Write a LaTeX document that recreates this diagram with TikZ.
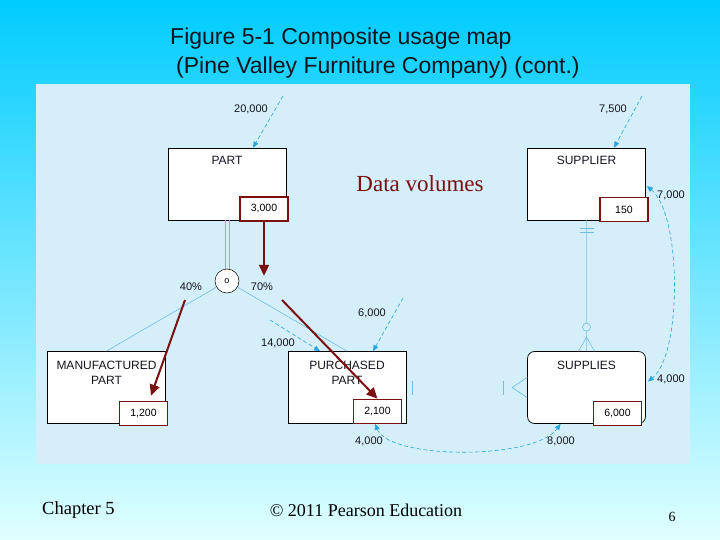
\documentclass[tikz,border=0pt]{standalone}
\usepackage{fontspec}
\setmainfont{Liberation Sans}
\newfontfamily\timesfont{Liberation Serif}
\usetikzlibrary{arrows.meta,positioning,calc}
\definecolor{mTop}{RGB}{0,204,255}
\definecolor{mMid}{RGB}{105,208,252}
\definecolor{mBottom}{RGB}{224,255,255}
\definecolor{mPanel}{RGB}{212,238,250}
\definecolor{mFlow}{RGB}{38,166,220}
\definecolor{mLink}{RGB}{110,190,228}
\definecolor{mMaroon}{RGB}{122,16,16}
\definecolor{mInk}{RGB}{20,20,30}

\begin{document}
\begin{tikzpicture}[x=1pt,y=-1pt,
  entity/.style={draw=black,line width=0.7pt,fill=white,minimum width=118pt,minimum height=72pt,inner sep=0pt},
  ename/.style={font=\fontsize{12}{14.5}\selectfont,align=center,anchor=north,inner sep=0pt,text=mInk},
  vol/.style={draw=mMaroon,line width=1.6pt,fill=white,minimum width=48pt,minimum height=24pt,inner sep=0pt,font=\fontsize{10.5}{11}\selectfont},
  num/.style={font=\fontsize{11}{12}\selectfont,inner sep=1pt,text=mInk},
  flow/.style={mFlow,line width=0.6pt,dash pattern=on 4pt off 2.5pt,-{Triangle[length=6pt,width=5pt]}},
  flowboth/.style={flow,{Triangle[length=6pt,width=5pt]}-{Triangle[length=6pt,width=5pt]}},
  link/.style={mLink,line width=0.6pt},
  hint/.style={mMaroon,line width=2pt,-{Triangle[length=11pt,width=10pt]}}]
  \useasboundingbox (0,0) rectangle (720,540);
  \shade[top color=mTop,middle color=mMid,bottom color=mBottom] (0,0) rectangle (720,540);
  \fill[mPanel] (36,84) rectangle (690,464);

  % title
  \node[anchor=base west,font=\fontsize{23}{26}\selectfont,text=mInk,inner sep=0pt] (title) at (170,45) {Figure 5-1 Composite usage map};
  \node[anchor=base west,font=\fontsize{23}{26}\selectfont,text=mInk,inner sep=0pt] (subtitle) at (176,74) {(Pine Valley Furniture Company) (cont.)};

  % entities
  \node[entity] (part) at (227,184) {};
  \node[entity] (supplier) at (586.5,184) {};
  \node[entity] (mfgpart) at (106.5,387.5) {};
  \node[entity] (purchpart) at (347,387.5) {};
  \node[entity,rounded corners=7pt] (supplies) at (586.5,387.5) {};
  \node[ename] (partname) at ($(part.north)+(0,8)$) {PART};
  \node[ename] (suppliername) at ($(supplier.north)+(0,8)$) {SUPPLIER};
  \node[ename] (mfgname) at ($(mfgpart.north)+(0,10)$) {MANUFACTURED\\PART};
  \node[ename] (purchname) at ($(purchpart.north)+(0,10)$) {PURCHASED\\PART};
  \node[ename] (suppliesname) at ($(supplies.north)+(0,10)$) {SUPPLIES};

  % volume boxes
  \node[vol] (partvol) at (264,209) {3,000};
  \node[vol] (suppliervol) at (624,209.5) {150};
  \node[vol] (mfgvol) at (143.5,413.5) {1,200};
  \node[vol] (purchvol) at (377.5,411.5) {2,100};
  \node[vol] (suppliesvol) at (617.5,413.5) {6,000};

  % subtype circle
  \node[circle,draw=black,line width=0.5pt,fill=white,minimum size=24pt,inner sep=0pt,font=\fontsize{9}{9}\selectfont] (op) at (227,281) {o};
  \draw[link] ($(part.south)+(-2,0)$) -- ($(op.north)+(-2,0.3)$);
  \draw[link] ($(part.south)+(2,0)$) -- ($(op.north)+(2,0.3)$);
  \draw[link] (op) -- (mfgpart.north);
  \draw[link] (op) -- (purchpart.north);
  \node[num] (pctmfg) at (191,287) {40\%};
  \node[num] (pctpurch) at (262,287) {70\%};

  % supplier -- supplies
  \draw[link,opacity=0.6] (supplier.south) -- (supplies.north);
  \draw[link] ($(supplier.south)+(-7,8)$) -- ++(14,0);
  \draw[link] ($(supplier.south)+(-7,12)$) -- ++(14,0);
  \draw[link,fill=mPanel] ($(supplies.north)+(0,-24)$) circle (4);
  \draw[link] ($(supplies.north)+(-8,0)$) -- ($(supplies.north)+(0,-14)$) -- ($(supplies.north)+(8,0)$);
  % purchased part -- supplies
  \draw[link] ($(purchpart.east)+(6,-7)$) -- ++(0,14);
  \draw[link] ($(supplies.west)+(-24,-7)$) -- ++(0,14);
  \draw[link] ($(supplies.west)+(0,-10)$) -- ($(supplies.west)+(-15,0)$) -- ($(supplies.west)+(0,10)$);

  % access flows
  \coordinate (partin) at (283,96);
  \coordinate (supplierin) at (642,96);
  \coordinate (purchin) at (403,298);
  \coordinate (mfgin) at (270,320);
  \draw[flow] (partin) -- ($(part.north)+(26,0)$);
  \draw[flow] (supplierin) -- ($(supplier.north)+(27.5,0)$);
  \draw[flow] (purchin) -- ($(purchpart.north)+(26,0)$);
  \draw[flow] (mfgin) -- ($(purchpart.north)+(-27,0)$);
  \draw[flowboth] ($(supplier.east)+(1,2)$) .. controls (682,215) and (682,355) .. ($(supplies.east)+(2,-6)$);
  \draw[flowboth] ($(purchpart.south)+(28,0)$) .. controls (390,460) and (535,460) .. ($(supplies.south)+(-26,0)$);
  \node[num] (partinlbl) at (251,109) {20,000};
  \node[num] (supplierinlbl) at (613,109) {7,500};
  \node[num] (purchinlbl) at (372,313) {6,000};
  \node[num] (mfginlbl) at (278,343) {14,000};
  \node[num] (supplierup) at (671,195) {7,000};
  \node[num] (suppliesdown) at (671,379) {4,000};
  \node[num] (purchup) at (369,441) {4,000};
  \node[num] (suppliesup) at (561,441) {8,000};

  % data volume callout
  \node[font=\timesfont\fontsize{23}{26}\selectfont,text=mMaroon] (callout) at (420,184) {Data volumes};
  \coordinate (mfghint) at (185,300);
  \coordinate (purchhint) at (282,300);
  \draw[hint] (partvol.south) -- ($(partvol.south)+(0,54)$);
  \draw[hint] (mfghint) -- ($(mfgvol.north)+(7.5,-5)$);
  \draw[hint] (purchhint) -- (purchvol.north);

  % footer
  \node[font=\timesfont\fontsize{18.5}{20}\selectfont,anchor=west,inner sep=0pt] (chapter) at (42,510) {Chapter 5};
  \node[font=\timesfont\fontsize{18}{20}\selectfont,inner sep=0pt] (copyright) at (366,510) {© 2011 Pearson Education};
  \node[font=\timesfont\fontsize{14}{16}\selectfont,inner sep=0pt] (pagenum) at (672,517) {6};
\end{tikzpicture}
\end{document}
